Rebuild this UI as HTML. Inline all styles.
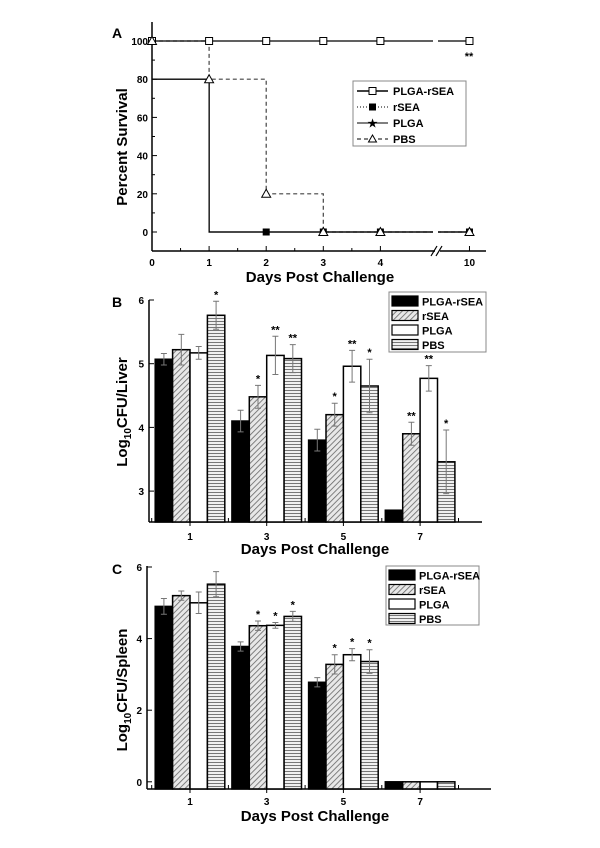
<!DOCTYPE html>
<html><head><meta charset="utf-8"><style>
body{margin:0;background:#fff}
svg{display:block;font-family:"Liberation Sans",Arial,sans-serif;font-weight:bold}
</style></head><body>
<svg id="s" width="600" height="848" viewBox="0 0 600 848">
<defs>
<pattern id="diag" patternUnits="userSpaceOnUse" width="4" height="4" patternTransform="rotate(45)"><rect width="4" height="4" fill="#e8e8e8"/><line x1="0" y1="0" x2="0" y2="4" stroke="#666" stroke-width="1.6"/></pattern>
<pattern id="horiz" patternUnits="userSpaceOnUse" width="4" height="3"><rect width="4" height="3" fill="#f0f0f0"/><line x1="0" y1="0.5" x2="4" y2="0.5" stroke="#777" stroke-width="1"/></pattern>
</defs>
<g id="A"></g>
<g id="B"></g>
<g id="C"></g>
</svg>
<script>
// Panel A data
const aDays=["0","1","2","3","4","10"];
const aPos=[0,1,2,3,4,5.56];
const aPLGArSEA=[100,100,100,100,100,100];
const aRSEA=[80,0,0,0,0,0];
const aPLGA=[80,0,0,0,0,0];
const aPBS=[100,80,20,0,0,0];
const aYTicks=[0,20,40,60,80,100];
// Panel B data
const groups=["1","3","5","7"];
const seriesNames=["PLGA-rSEA","rSEA","PLGA","PBS"];
const bVals=[[5.07,4.1,3.8,2.7],[5.22,4.48,4.2,3.9],[5.17,5.13,4.96,4.77],[5.76,5.08,4.65,3.46]];
const bErr=[[0.09,0.17,0.17,0],[0.24,0.18,0.18,0.18],[0.1,0.3,0.25,0.2],[0.22,0.22,0.42,0.5]];
const bStars=[["","","",""],["","*","*","**"],["","**","**","**"],["*","**","*","*"]];
const bYTicks=[3,4,5,6];
// Panel C data
const cVals=[[4.9,3.78,2.78,0],[5.2,4.36,3.28,0],[5.0,4.37,3.55,0],[5.52,4.62,3.36,0]];
const cErr=[[0.22,0.13,0.13,0],[0.13,0.13,0.27,0],[0.3,0.08,0.17,0],[0.35,0.14,0.33,0]];
const cStars=[["","","",""],["","*","*",""],["","*","*",""],["","*","*",""]];
const cYTicks=[0,2,4,6];

const NS="http://www.w3.org/2000/svg";
function mk(p,t,a,txt){const e=document.createElementNS(NS,t);for(const k in a)e.setAttribute(k,a[k]);if(txt!==undefined)e.textContent=txt;p.appendChild(e);return e;}

// ---- Panel A
(function(){
const g=document.getElementById('A');
const x0=152,dx=57.1,yTop=22,yBot=251;
const X=p=>x0+p*dx, Y=v=>232-v*1.91;
mk(g,'text',{x:112,y:38,'font-size':14,},'A');
mk(g,'line',{x1:x0,y1:yTop,x2:x0,y2:yBot,stroke:'#000','stroke-width':1.5,});
mk(g,'line',{x1:x0,y1:yBot,x2:435,y2:yBot,stroke:'#000','stroke-width':1.5,});
mk(g,'line',{x1:440,y1:yBot,x2:486,y2:yBot,stroke:'#000','stroke-width':1.5});
mk(g,'path',{d:'M431,256 L437,246 M436,256 L442,246',stroke:'#000','stroke-width':1.2,fill:'none',});
for(let v=-10;v<=110;v+=10){if(Y(v)<yTop||Y(v)>yBot)continue;mk(g,'line',{x1:x0,y1:Y(v),x2:x0+(v%20===0?5:3),y2:Y(v),stroke:'#000'});}
aYTicks.forEach(v=>{const t=mk(g,'text',{x:x0-4,y:Y(v)+4,'font-size':10,'text-anchor':'end'},v);});
aDays.forEach((d,i)=>{mk(g,'line',{x1:X(aPos[i]),y1:yBot,x2:X(aPos[i]),y2:yBot-5,stroke:'#000'});const t=mk(g,'text',{x:X(aPos[i]),y:266,'font-size':10,'text-anchor':'middle'},d);});
for(let i=0;i<4;i++)mk(g,'line',{x1:X(i+0.5),y1:yBot,x2:X(i+0.5),y2:yBot-3,stroke:'#000'});
mk(g,'text',{x:320,y:282,'font-size':15,'text-anchor':'middle',},'Days Post Challenge');
mk(g,'text',{x:0,y:0,'font-size':15,'text-anchor':'middle',transform:'translate(127,147) rotate(-90)',},'Percent Survival');
function step(vals,dash,name,col){let d='M'+X(aPos[0])+','+Y(vals[0]);for(let i=1;i<vals.length;i++){d+=' L'+X(aPos[i])+','+Y(vals[i-1])+' L'+X(aPos[i])+','+Y(vals[i]);}
const p=mk(g,'path',{d:d,fill:'none',stroke:col,'stroke-width':1.2,'stroke-dasharray':dash});}
step(aPBS,'4,3','line-pbs','#444');step(aRSEA,'','line-rsea','#000');step(aPLGA,'','line-plga','#000');step(aPLGArSEA,'','line-plga-rsea','#000');
// gap for break
mk(g,'rect',{x:433,y:35,width:5,height:205,fill:'#fff'});
aPLGArSEA.forEach((v,i)=>{const r=mk(g,'rect',{x:X(aPos[i])-3.5,y:Y(v)-3.5,width:7,height:7,fill:'#fff',stroke:'#000'});});
aRSEA.forEach((v,i)=>{if(i<2)return;const r=mk(g,'rect',{x:X(aPos[i])-3.5,y:Y(v)-3.5,width:7,height:7,fill:'#000'});});
aPBS.forEach((v,i)=>{const cx=X(aPos[i]),cy=Y(v);const r=mk(g,'path',{d:`M${cx},${cy-4.5}L${cx+4.5},${cy+3.5}L${cx-4.5},${cy+3.5}Z`,fill:'#fff',stroke:'#000'});});
mk(g,'text',{x:469,y:60,'font-size':11,'text-anchor':'middle',},'**');
const L=mk(g,'g',{});
mk(L,'rect',{x:353,y:81,width:113,height:65,fill:'#fff',stroke:'#888'});
const ly=[91,107,123,139],lab=["PLGA-rSEA","rSEA","PLGA","PBS"];
lab.forEach((t,i)=>{const y=ly[i];mk(L,'line',{x1:357,y1:y,x2:388,y2:y,stroke:'#000','stroke-width':i==0?1.5:1,'stroke-dasharray':i==1?'1,2':(i==3?'4,3':'')});
if(i==0)mk(L,'rect',{x:369,y:y-3.5,width:7,height:7,fill:'#fff',stroke:'#000'});
if(i==1)mk(L,'rect',{x:369,y:y-3.5,width:7,height:7,fill:'#000'});
if(i==2)mk(L,'text',{x:372.5,y:y+4,'font-size':11,'text-anchor':'middle'},'★');
if(i==3)mk(L,'path',{d:`M372.5,${y-4}L376.5,${y+3}L368.5,${y+3}Z`,fill:'#fff',stroke:'#000'});
const tt=mk(L,'text',{x:393,y:y+4,'font-size':11},t);});
})();

// ---- Bar panels
function bars(id,cfg,vals,errs,stars,ticks){
const g=document.getElementById(id);
const {x0,xr,yTop,yBot,v0,vBase,scale,lab,tickY,titleY,ytitle,ytY,leg}=cfg;
const Y=v=>v0-(v-cfg.vRef)*scale;
mk(g,'text',{x:112,y:lab,'font-size':14,},id);
mk(g,'line',{x1:x0,y1:yTop,x2:x0,y2:yBot,stroke:'#000','stroke-width':1.5,});
mk(g,'line',{x1:x0,y1:yBot,x2:xr,y2:yBot,stroke:'#000','stroke-width':1.5,});
ticks.forEach(v=>{mk(g,'line',{x1:x0,y1:Y(v),x2:x0+5,y2:Y(v),stroke:'#000'});const t=mk(g,'text',{x:x0-5,y:Y(v)+4,'font-size':10,'text-anchor':'end'},v);});
const gx=i=>190+i*76.7, bw=17.4;
for(let i=0;i<=4;i++){const x=gx(i)-38.3;if(x>x0)mk(g,'line',{x1:x,y1:yBot,x2:x,y2:yBot-4,stroke:'#000'});}
groups.forEach((gname,i)=>{mk(g,'line',{x1:gx(i),y1:yBot,x2:gx(i),y2:yBot+4,stroke:'#000'});const t=mk(g,'text',{x:gx(i),y:tickY,'font-size':10,'text-anchor':'middle'},gname);});
const fills=['#000','url(#diag)','#fff','url(#horiz)'];
vals.forEach((sv,s)=>sv.forEach((v,i)=>{const x=gx(i)-2*bw+s*bw,y=Y(v),base=Math.min(yBot,Y(vBase));
const r=mk(g,'rect',{x:x,y:y,width:bw,height:Math.max(base-y,1),fill:fills[s],stroke:'#000','stroke-width':1.5});

const e=errs[s][i];if(e>0){const cx=x+bw/2;mk(g,'path',{d:`M${cx},${Y(v-e)}V${Y(v+e)}M${cx-3},${Y(v+e)}H${cx+3}M${cx-3},${Y(v-e)}H${cx+3}`,stroke:'#777',fill:'none',});}
if(stars[s][i])mk(g,'text',{x:x+bw/2,y:Y(v+e)-3,'font-size':11,'text-anchor':'middle',},stars[s][i]);
}));
mk(g,'text',{x:315,y:titleY,'font-size':15,'text-anchor':'middle',},'Days Post Challenge');
const yt=mk(g,'text',{x:0,y:0,'font-size':15,'text-anchor':'middle',transform:`translate(127,${ytY}) rotate(-90)`,},'Log');
mk(yt,'tspan',{'font-size':10,dy:4},'10');mk(yt,'tspan',{dy:-4},ytitle);
const L=mk(g,'g',{});
mk(L,'rect',{x:leg[0],y:leg[1],width:leg[2],height:leg[3],fill:'#fff',stroke:'#888'});
seriesNames.forEach((n,s)=>{const y=leg[1]+4+s*14.5;mk(L,'rect',{x:leg[0]+3,y:y,width:26,height:10,fill:fills[s],stroke:'#000','stroke-width':1.2});
const t=mk(L,'text',{x:leg[0]+33,y:y+9.5,'font-size':11},n);});
}
bars('B',{x0:149,xr:482,yTop:300,yBot:522,v0:300,vRef:6,vBase:2.5,scale:63.7,lab:307,tickY:540,titleY:554,ytitle:'CFU/Liver',ytY:412,leg:[389,292,97,60]},bVals,bErr,bStars,bYTicks);
bars('C',{x0:147,xr:491,yTop:566,yBot:789,v0:567,vRef:6,vBase:-0.2,scale:35.8,lab:574,tickY:805,titleY:821,ytitle:'CFU/Spleen',ytY:690,leg:[386,566,93,59]},cVals,cErr,cStars,cYTicks);
</script>
</body></html>
